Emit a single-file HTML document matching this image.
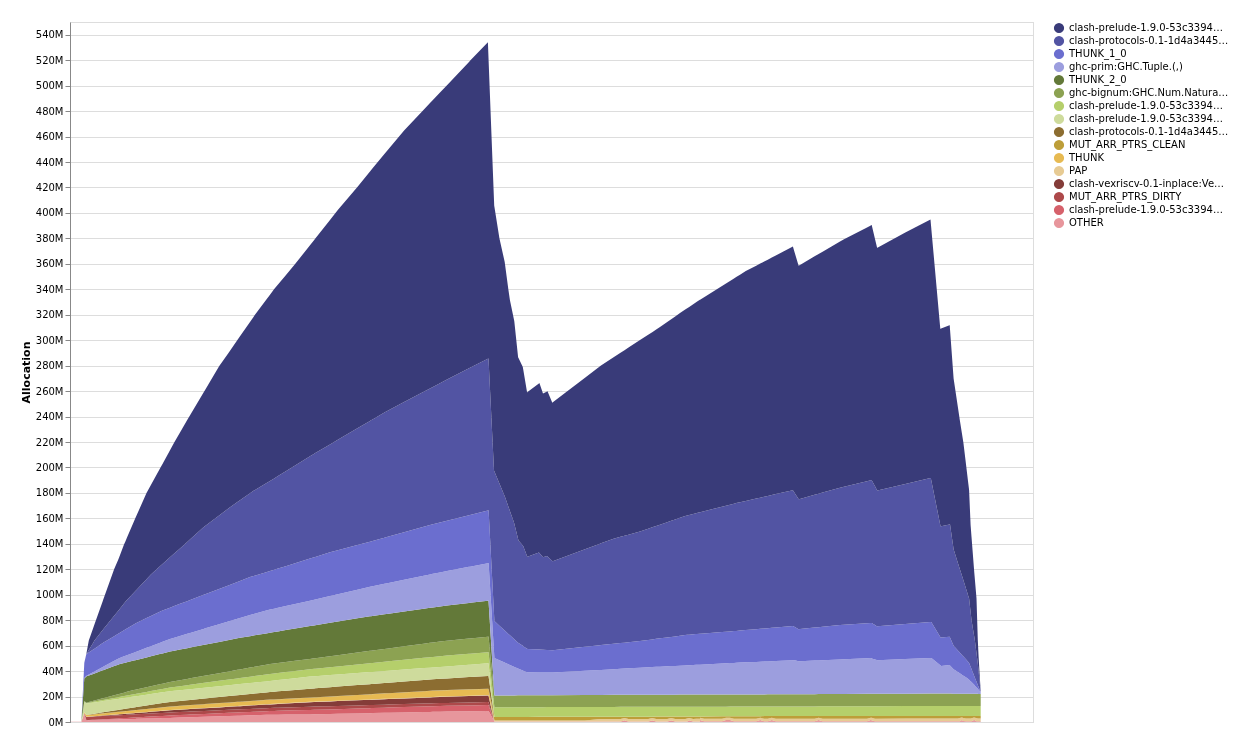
<!DOCTYPE html>
<html><head><meta charset="utf-8"><title>Heap profile</title>
<style>
html,body{margin:0;padding:0;background:#fff;}
svg{display:block;font-family:"DejaVu Sans","Liberation Sans",sans-serif;}
.lab{font-size:10px;fill:#000;}
.ttl{font-size:11px;font-weight:bold;fill:#000;}
</style></head><body>
<svg width="1234" height="734" viewBox="0 0 1234 734">
<rect width="1234" height="734" fill="#fff"/>
<g stroke="#ddd" stroke-width="1"><line x1="70.5" x2="1033.5" y1="722.50" y2="722.50"/><line x1="70.5" x2="1033.5" y1="697.50" y2="697.50"/><line x1="70.5" x2="1033.5" y1="671.50" y2="671.50"/><line x1="70.5" x2="1033.5" y1="646.50" y2="646.50"/><line x1="70.5" x2="1033.5" y1="620.50" y2="620.50"/><line x1="70.5" x2="1033.5" y1="595.50" y2="595.50"/><line x1="70.5" x2="1033.5" y1="569.50" y2="569.50"/><line x1="70.5" x2="1033.5" y1="544.50" y2="544.50"/><line x1="70.5" x2="1033.5" y1="518.50" y2="518.50"/><line x1="70.5" x2="1033.5" y1="493.50" y2="493.50"/><line x1="70.5" x2="1033.5" y1="467.50" y2="467.50"/><line x1="70.5" x2="1033.5" y1="442.50" y2="442.50"/><line x1="70.5" x2="1033.5" y1="417.50" y2="417.50"/><line x1="70.5" x2="1033.5" y1="391.50" y2="391.50"/><line x1="70.5" x2="1033.5" y1="366.50" y2="366.50"/><line x1="70.5" x2="1033.5" y1="340.50" y2="340.50"/><line x1="70.5" x2="1033.5" y1="315.50" y2="315.50"/><line x1="70.5" x2="1033.5" y1="289.50" y2="289.50"/><line x1="70.5" x2="1033.5" y1="264.50" y2="264.50"/><line x1="70.5" x2="1033.5" y1="238.50" y2="238.50"/><line x1="70.5" x2="1033.5" y1="213.50" y2="213.50"/><line x1="70.5" x2="1033.5" y1="187.50" y2="187.50"/><line x1="70.5" x2="1033.5" y1="162.50" y2="162.50"/><line x1="70.5" x2="1033.5" y1="137.50" y2="137.50"/><line x1="70.5" x2="1033.5" y1="111.50" y2="111.50"/><line x1="70.5" x2="1033.5" y1="86.50" y2="86.50"/><line x1="70.5" x2="1033.5" y1="60.50" y2="60.50"/><line x1="70.5" x2="1033.5" y1="35.50" y2="35.50"/></g>
<rect x="70.5" y="22.5" width="963.0" height="700.0" fill="none" stroke="#ddd" stroke-width="1"/>
<g>
<path fill="#e7969c" d="M70.5,721.70L81.4,721.70L84.3,713.50L86.4,720.30L86.6,720.29L88.8,720.23L92.5,720.12L94.5,720.07L102.7,719.83L103.1,719.82L114.2,719.50L118.1,719.39L119.1,719.36L124.0,719.22L125.6,719.17L126.9,719.14L133.8,718.94L135.4,718.89L136.4,718.86L146.5,718.57L150.9,718.45L160.8,718.16L162.5,718.12L170.0,717.90L174.2,717.77L180.0,717.58L187.2,717.35L190.2,717.25L204.3,716.80L204.5,716.80L219.1,716.33L229.0,716.01L237.4,715.74L240.0,715.66L250.0,715.34L253.5,715.23L254.6,715.19L266.2,714.82L270.0,714.70L274.2,714.67L278.0,714.64L285.8,714.58L295.1,714.51L310.0,714.40L314.2,714.31L315.3,714.29L330.0,713.98L337.8,713.82L357.4,713.42L370.0,713.15L371.0,713.13L372.6,713.10L384.4,712.85L388.6,712.77L404.1,712.45L423.7,712.04L430.0,711.91L432.9,711.85L440.0,711.70L447.0,711.58L469.0,711.22L470.0,711.21L487.9,710.91L488.5,710.90L488.6,711.08L494.0,720.69L494.2,721.04L494.4,721.40L499.4,721.40L504.7,721.40L505.0,721.40L508.4,721.40L509.9,721.40L514.0,721.40L514.3,721.40L518.1,721.40L518.5,721.40L522.8,721.40L523.2,721.40L527.1,721.40L527.3,721.40L527.5,721.40L538.9,721.40L539.4,721.40L543.0,721.40L547.1,721.40L547.5,721.40L552.3,721.40L552.6,721.40L552.8,721.40L585.0,721.40L600.0,721.40L601.0,721.40L613.6,721.40L620.5,721.40L624.5,721.40L628.5,721.40L640.0,721.40L648.2,721.40L652.2,721.40L656.2,721.40L660.0,721.40L667.2,721.40L671.2,721.40L675.2,721.40L680.0,721.40L685.2,721.40L687.2,721.40L689.2,721.40L693.2,721.40L696.1,721.40L696.8,721.40L699.9,721.40L700.0,721.20L700.1,721.20L704.1,721.20L722.0,721.20L726.0,721.20L730.0,721.20L734.0,721.20L736.2,721.20L740.0,721.20L745.8,721.20L756.2,721.20L760.2,721.20L764.2,721.20L767.8,721.20L771.8,721.20L775.8,721.20L792.9,721.20L794.8,721.20L798.6,721.20L798.8,721.20L798.9,721.20L800.0,721.20L814.6,721.20L818.6,721.20L822.6,721.20L840.0,721.20L844.0,721.20L867.0,721.20L870.8,721.20L871.0,721.20L871.6,721.20L871.7,721.20L875.0,721.20L876.8,721.20L877.1,721.20L877.3,721.20L877.4,721.20L905.3,721.20L930.5,721.20L930.8,721.20L931.3,721.20L931.4,721.20L940.0,721.20L940.3,721.20L940.5,721.20L940.7,721.20L941.1,721.20L949.5,721.20L949.7,721.20L950.0,721.20L953.6,721.20L957.9,721.20L959.8,721.20L961.9,721.20L963.4,721.20L965.9,721.20L968.3,721.20L969.0,721.20L969.1,721.20L970.3,721.20L970.6,721.20L971.5,721.20L974.0,721.20L974.2,721.20L974.3,721.20L974.8,721.20L976.5,721.20L977.1,721.20L977.8,721.20L977.9,721.20L978.3,721.20L978.6,721.20L980.7,721.20L980.7,722.00L978.6,722.00L978.3,722.00L977.9,722.00L977.8,722.00L977.1,722.00L976.5,722.00L974.8,722.00L974.3,722.00L974.2,722.00L974.0,722.00L971.5,722.00L970.6,722.00L970.3,722.00L969.1,722.00L969.0,722.00L968.3,722.00L965.9,722.00L963.4,722.00L961.9,722.00L959.8,722.00L957.9,722.00L953.6,722.00L950.0,722.00L949.7,722.00L949.5,722.00L941.1,722.00L940.7,722.00L940.5,722.00L940.3,722.00L940.0,722.00L931.4,722.00L931.3,722.00L930.8,722.00L930.5,722.00L905.3,722.00L877.4,722.00L877.3,722.00L877.1,722.00L876.8,722.00L875.0,722.00L871.7,722.00L871.6,722.00L871.0,722.00L870.8,722.00L867.0,722.00L844.0,722.00L840.0,722.00L822.6,722.00L818.6,722.00L814.6,722.00L800.0,722.00L798.9,722.00L798.8,722.00L798.6,722.00L794.8,722.00L792.9,722.00L775.8,722.00L771.8,722.00L767.8,722.00L764.2,722.00L760.2,722.00L756.2,722.00L745.8,722.00L740.0,722.00L736.2,722.00L734.0,722.00L730.0,722.00L726.0,722.00L722.0,722.00L704.1,722.00L700.1,722.00L700.0,722.00L699.9,722.00L696.8,722.00L696.1,722.00L693.2,722.00L689.2,722.00L687.2,722.00L685.2,722.00L680.0,722.00L675.2,722.00L671.2,722.00L667.2,722.00L660.0,722.00L656.2,722.00L652.2,722.00L648.2,722.00L640.0,722.00L628.5,722.00L624.5,722.00L620.5,722.00L613.6,722.00L601.0,722.00L600.0,722.00L585.0,722.00L552.8,722.00L552.6,722.00L552.3,722.00L547.5,722.00L547.1,722.00L543.0,722.00L539.4,722.00L538.9,722.00L527.5,722.00L527.3,722.00L527.1,722.00L523.2,722.00L522.8,722.00L518.5,722.00L518.1,722.00L514.3,722.00L514.0,722.00L509.9,722.00L508.4,722.00L505.0,722.00L504.7,722.00L499.4,722.00L494.4,722.00L494.2,722.00L494.0,722.00L488.6,722.00L488.5,722.00L487.9,722.00L470.0,722.00L469.0,722.00L447.0,722.00L440.0,722.00L432.9,722.00L430.0,722.00L423.7,722.00L404.1,722.00L388.6,722.00L384.4,722.00L372.6,722.00L371.0,722.00L370.0,722.00L357.4,722.00L337.8,722.00L330.0,722.00L315.3,722.00L314.2,722.00L310.0,722.00L295.1,722.00L285.8,722.00L278.0,722.00L274.2,722.00L270.0,722.00L266.2,722.00L254.6,722.00L253.5,722.00L250.0,722.00L240.0,722.00L237.4,722.00L229.0,722.00L219.1,722.00L204.5,722.00L204.3,722.00L190.2,722.00L187.2,722.00L180.0,722.00L174.2,722.00L170.0,722.00L162.5,722.00L160.8,722.00L150.9,722.00L146.5,722.00L136.4,722.00L135.4,722.00L133.8,722.00L126.9,722.00L125.6,722.00L124.0,722.00L119.1,722.00L118.1,722.00L114.2,722.00L103.1,722.00L102.7,722.00L94.5,722.00L92.5,722.00L88.8,722.00L86.6,722.00L86.4,722.00L84.3,722.00L81.4,722.00L70.5,722.00Z"/>
<path fill="#d6616b" d="M81.4,721.70L84.3,713.40L86.4,720.20L86.6,720.19L88.8,720.07L92.5,719.86L94.5,719.74L102.7,719.28L103.1,719.26L114.2,718.64L118.1,718.42L119.1,718.36L124.0,718.09L125.6,718.00L126.9,717.92L133.8,717.54L135.4,717.45L136.4,717.39L146.5,716.82L150.9,716.57L160.8,716.02L162.5,715.92L170.0,715.50L174.2,715.31L180.0,715.05L187.2,714.73L190.2,714.59L204.3,713.96L204.5,713.95L219.1,713.29L229.0,712.85L237.4,712.47L240.0,712.35L250.0,711.90L253.5,711.74L254.6,711.69L266.2,711.17L270.0,711.00L274.2,710.89L278.0,710.80L285.8,710.61L295.1,710.37L310.0,710.00L314.2,709.87L315.3,709.84L330.0,709.38L337.8,709.14L357.4,708.54L370.0,708.15L371.0,708.12L372.6,708.07L384.4,707.71L388.6,707.58L404.1,707.10L423.7,706.50L430.0,706.31L432.9,706.22L440.0,706.00L447.0,705.86L469.0,705.40L470.0,705.38L487.9,705.01L488.5,705.00L488.6,705.29L494.0,720.69L494.2,721.04L494.4,721.40L499.4,721.40L504.7,721.40L505.0,721.40L508.4,721.40L509.9,721.40L514.0,721.40L514.3,721.40L518.1,721.40L518.5,721.40L522.8,721.40L523.2,721.40L527.1,721.40L527.3,721.40L527.5,721.40L538.9,721.40L539.4,721.40L543.0,721.40L547.1,721.40L547.5,721.40L552.3,721.40L552.6,721.40L552.8,721.40L585.0,721.40L600.0,721.40L601.0,721.40L613.6,721.40L620.5,721.40L624.5,720.40L628.5,721.40L640.0,721.40L648.2,721.40L652.2,720.40L656.2,721.40L660.0,721.40L667.2,721.40L671.2,720.40L675.2,721.40L680.0,721.40L685.2,721.40L687.2,721.40L689.2,720.40L693.2,721.40L696.1,721.40L696.8,721.40L699.9,721.40L700.0,721.20L700.1,720.20L704.1,721.20L722.0,721.20L726.0,720.20L730.0,720.20L734.0,721.20L736.2,721.20L740.0,721.20L745.8,721.20L756.2,721.20L760.2,720.20L764.2,721.20L767.8,721.20L771.8,720.20L775.8,721.20L792.9,721.20L794.8,721.20L798.6,721.20L798.8,721.20L798.9,721.20L800.0,721.20L814.6,721.20L818.6,720.20L822.6,721.20L840.0,721.20L844.0,721.20L867.0,721.20L870.8,720.31L871.0,720.20L871.6,720.53L871.7,720.59L875.0,721.20L876.8,721.20L877.1,721.20L877.3,721.20L877.4,721.20L905.3,721.20L930.5,721.20L930.8,721.20L931.3,721.20L931.4,721.20L940.0,721.20L940.3,721.20L940.5,721.20L940.7,721.20L941.1,721.20L949.5,721.20L949.7,721.20L950.0,721.20L953.6,721.20L957.9,721.20L959.8,721.20L961.9,720.20L963.4,721.02L965.9,721.20L968.3,721.20L969.0,721.20L969.1,721.20L970.3,721.20L970.6,721.20L971.5,721.20L974.0,720.37L974.2,720.25L974.3,720.20L974.8,720.48L976.5,721.20L976.5,721.20L974.8,721.20L974.3,721.20L974.2,721.20L974.0,721.20L971.5,721.20L970.6,721.20L970.3,721.20L969.1,721.20L969.0,721.20L968.3,721.20L965.9,721.20L963.4,721.20L961.9,721.20L959.8,721.20L957.9,721.20L953.6,721.20L950.0,721.20L949.7,721.20L949.5,721.20L941.1,721.20L940.7,721.20L940.5,721.20L940.3,721.20L940.0,721.20L931.4,721.20L931.3,721.20L930.8,721.20L930.5,721.20L905.3,721.20L877.4,721.20L877.3,721.20L877.1,721.20L876.8,721.20L875.0,721.20L871.7,721.20L871.6,721.20L871.0,721.20L870.8,721.20L867.0,721.20L844.0,721.20L840.0,721.20L822.6,721.20L818.6,721.20L814.6,721.20L800.0,721.20L798.9,721.20L798.8,721.20L798.6,721.20L794.8,721.20L792.9,721.20L775.8,721.20L771.8,721.20L767.8,721.20L764.2,721.20L760.2,721.20L756.2,721.20L745.8,721.20L740.0,721.20L736.2,721.20L734.0,721.20L730.0,721.20L726.0,721.20L722.0,721.20L704.1,721.20L700.1,721.20L700.0,721.20L699.9,721.40L696.8,721.40L696.1,721.40L693.2,721.40L689.2,721.40L687.2,721.40L685.2,721.40L680.0,721.40L675.2,721.40L671.2,721.40L667.2,721.40L660.0,721.40L656.2,721.40L652.2,721.40L648.2,721.40L640.0,721.40L628.5,721.40L624.5,721.40L620.5,721.40L613.6,721.40L601.0,721.40L600.0,721.40L585.0,721.40L552.8,721.40L552.6,721.40L552.3,721.40L547.5,721.40L547.1,721.40L543.0,721.40L539.4,721.40L538.9,721.40L527.5,721.40L527.3,721.40L527.1,721.40L523.2,721.40L522.8,721.40L518.5,721.40L518.1,721.40L514.3,721.40L514.0,721.40L509.9,721.40L508.4,721.40L505.0,721.40L504.7,721.40L499.4,721.40L494.4,721.40L494.2,721.04L494.0,720.69L488.6,711.08L488.5,710.90L487.9,710.91L470.0,711.21L469.0,711.22L447.0,711.58L440.0,711.70L432.9,711.85L430.0,711.91L423.7,712.04L404.1,712.45L388.6,712.77L384.4,712.85L372.6,713.10L371.0,713.13L370.0,713.15L357.4,713.42L337.8,713.82L330.0,713.98L315.3,714.29L314.2,714.31L310.0,714.40L295.1,714.51L285.8,714.58L278.0,714.64L274.2,714.67L270.0,714.70L266.2,714.82L254.6,715.19L253.5,715.23L250.0,715.34L240.0,715.66L237.4,715.74L229.0,716.01L219.1,716.33L204.5,716.80L204.3,716.80L190.2,717.25L187.2,717.35L180.0,717.58L174.2,717.77L170.0,717.90L162.5,718.12L160.8,718.16L150.9,718.45L146.5,718.57L136.4,718.86L135.4,718.89L133.8,718.94L126.9,719.14L125.6,719.17L124.0,719.22L119.1,719.36L118.1,719.39L114.2,719.50L103.1,719.82L102.7,719.83L94.5,720.07L92.5,720.12L88.8,720.23L86.6,720.29L86.4,720.30L84.3,713.50L81.4,721.70Z"/>
<path fill="#ad494a" d="M84.3,713.40L86.4,717.00L86.6,716.99L88.8,716.87L92.5,716.67L94.5,716.56L102.7,716.12L103.1,716.10L114.2,715.50L118.1,715.29L119.1,715.24L124.0,714.98L125.6,714.89L126.9,714.82L133.8,714.45L135.4,714.36L136.4,714.31L146.5,713.76L150.9,713.53L160.8,713.00L162.5,712.90L170.0,712.50L174.2,712.31L180.0,712.05L187.2,711.73L190.2,711.59L204.3,710.96L204.5,710.95L219.1,710.29L229.0,709.85L237.4,709.47L240.0,709.35L250.0,708.90L253.5,708.74L254.6,708.69L266.2,708.17L270.0,708.00L274.2,707.86L278.0,707.74L285.8,707.49L295.1,707.18L310.0,706.70L314.2,706.58L315.3,706.55L330.0,706.15L337.8,705.93L357.4,705.39L370.0,705.04L371.0,705.01L372.6,704.97L384.4,704.64L388.6,704.52L404.1,704.09L423.7,703.55L430.0,703.38L432.9,703.30L440.0,703.10L447.0,702.95L469.0,702.47L470.0,702.45L487.9,702.06L488.5,702.05L488.6,702.39L494.0,720.69L494.0,720.69L488.6,705.29L488.5,705.00L487.9,705.01L470.0,705.38L469.0,705.40L447.0,705.86L440.0,706.00L432.9,706.22L430.0,706.31L423.7,706.50L404.1,707.10L388.6,707.58L384.4,707.71L372.6,708.07L371.0,708.12L370.0,708.15L357.4,708.54L337.8,709.14L330.0,709.38L315.3,709.84L314.2,709.87L310.0,710.00L295.1,710.37L285.8,710.61L278.0,710.80L274.2,710.89L270.0,711.00L266.2,711.17L254.6,711.69L253.5,711.74L250.0,711.90L240.0,712.35L237.4,712.47L229.0,712.85L219.1,713.29L204.5,713.95L204.3,713.96L190.2,714.59L187.2,714.73L180.0,715.05L174.2,715.31L170.0,715.50L162.5,715.92L160.8,716.02L150.9,716.57L146.5,716.82L136.4,717.39L135.4,717.45L133.8,717.54L126.9,717.92L125.6,718.00L124.0,718.09L119.1,718.36L118.1,718.42L114.2,718.64L103.1,719.26L102.7,719.28L94.5,719.74L92.5,719.86L88.8,720.07L86.6,720.19L86.4,720.20L84.3,713.40Z"/>
<path fill="#843c39" d="M81.4,721.70L84.3,713.30L86.4,716.90L86.6,716.88L88.8,716.71L92.5,716.42L94.5,716.26L102.7,715.61L103.1,715.58L114.2,714.71L118.1,714.40L119.1,714.32L124.0,713.93L125.6,713.81L126.9,713.70L133.8,713.16L135.4,713.03L136.4,712.95L146.5,712.16L150.9,711.81L160.8,711.03L162.5,710.89L170.0,710.30L174.2,710.05L180.0,709.71L187.2,709.29L190.2,709.11L204.3,708.28L204.5,708.26L219.1,707.40L229.0,706.82L237.4,706.32L240.0,706.17L250.0,705.58L253.5,705.37L254.6,705.31L266.2,704.62L270.0,704.40L274.2,704.17L278.0,703.96L285.8,703.53L295.1,703.02L310.0,702.20L314.2,702.03L315.3,701.99L330.0,701.40L337.8,701.09L357.4,700.30L370.0,699.80L371.0,699.76L372.6,699.70L384.4,699.22L388.6,699.06L404.1,698.44L423.7,697.65L430.0,697.40L432.9,697.28L440.0,697.00L447.0,696.78L469.0,696.10L470.0,696.07L487.9,695.52L488.5,695.50L488.6,695.96L494.0,720.58L494.2,721.04L494.2,721.04L494.0,720.69L488.6,702.39L488.5,702.05L487.9,702.06L470.0,702.45L469.0,702.47L447.0,702.95L440.0,703.10L432.9,703.30L430.0,703.38L423.7,703.55L404.1,704.09L388.6,704.52L384.4,704.64L372.6,704.97L371.0,705.01L370.0,705.04L357.4,705.39L337.8,705.93L330.0,706.15L315.3,706.55L314.2,706.58L310.0,706.70L295.1,707.18L285.8,707.49L278.0,707.74L274.2,707.86L270.0,708.00L266.2,708.17L254.6,708.69L253.5,708.74L250.0,708.90L240.0,709.35L237.4,709.47L229.0,709.85L219.1,710.29L204.5,710.95L204.3,710.96L190.2,711.59L187.2,711.73L180.0,712.05L174.2,712.31L170.0,712.50L162.5,712.90L160.8,713.00L150.9,713.53L146.5,713.76L136.4,714.31L135.4,714.36L133.8,714.45L126.9,714.82L125.6,714.89L124.0,714.98L119.1,715.24L118.1,715.29L114.2,715.50L103.1,716.10L102.7,716.12L94.5,716.56L92.5,716.67L88.8,716.87L86.6,716.99L86.4,717.00L84.3,713.40L81.4,721.70Z"/>
<path fill="#e7cb94" d="M84.3,713.30L86.4,716.80L86.6,716.78L88.8,716.60L92.5,716.30L94.5,716.14L102.7,715.47L103.1,715.44L114.2,714.54L118.1,714.22L119.1,714.14L124.0,713.74L125.6,713.61L126.9,713.51L133.8,712.94L135.4,712.81L136.4,712.73L146.5,711.91L150.9,711.55L160.8,710.75L162.5,710.61L170.0,710.00L174.2,709.75L180.0,709.40L187.2,708.97L190.2,708.79L204.3,707.94L204.5,707.93L219.1,707.05L229.0,706.46L237.4,705.96L240.0,705.80L250.0,705.20L253.5,704.99L254.6,704.92L266.2,704.23L270.0,704.00L274.2,703.77L278.0,703.56L285.8,703.13L295.1,702.62L310.0,701.80L314.2,701.63L315.3,701.59L330.0,701.00L337.8,700.69L357.4,699.90L370.0,699.40L371.0,699.36L372.6,699.30L384.4,698.82L388.6,698.66L404.1,698.04L423.7,697.25L430.0,697.00L432.9,696.88L440.0,696.60L447.0,696.38L469.0,695.70L470.0,695.67L487.9,695.12L488.5,695.10L488.6,695.53L494.0,718.68L494.2,719.54L494.4,720.40L499.4,720.40L504.7,720.40L505.0,720.40L508.4,720.40L509.9,720.40L514.0,720.40L514.3,720.40L518.1,720.40L518.5,720.40L522.8,720.40L523.2,720.40L527.1,720.40L527.3,720.40L527.5,720.40L538.9,720.40L539.4,720.40L543.0,720.40L547.1,720.40L547.5,720.40L552.3,720.40L552.6,720.40L552.8,720.40L585.0,720.40L600.0,719.00L601.0,719.00L613.6,718.98L620.5,718.97L624.5,717.97L628.5,718.96L640.0,718.95L648.2,718.94L652.2,717.93L656.2,718.93L660.0,718.92L667.2,718.91L671.2,717.91L675.2,718.90L680.0,718.89L685.2,718.89L687.2,718.39L689.2,717.88L693.2,718.88L696.1,718.87L696.8,718.87L699.9,718.87L700.0,718.87L700.1,717.87L704.1,718.86L722.0,718.84L726.0,717.83L730.0,717.83L734.0,718.82L736.2,718.82L740.0,718.82L745.8,718.81L756.2,718.79L760.2,717.79L764.2,718.78L767.8,718.78L771.8,717.77L775.8,718.77L792.9,718.75L794.8,718.74L798.6,718.74L798.8,718.74L798.9,718.74L800.0,718.74L814.6,718.72L818.6,717.71L822.6,718.71L840.0,718.68L844.0,718.68L867.0,718.65L870.8,717.69L871.0,717.64L871.6,717.79L871.7,717.82L875.0,718.64L876.8,718.64L877.1,718.64L877.3,718.64L877.4,718.63L905.3,718.60L930.5,718.57L930.8,718.56L931.3,718.56L931.4,718.56L940.0,718.55L940.3,718.55L940.5,718.55L940.7,718.55L941.1,718.55L949.5,718.54L949.7,718.54L950.0,718.54L953.6,718.53L957.9,718.53L959.8,718.05L961.9,717.52L963.4,717.90L965.9,718.52L968.3,718.52L969.0,718.51L969.1,718.51L970.3,718.51L970.6,718.44L971.5,718.21L974.0,717.58L974.2,717.53L974.3,717.51L974.8,717.63L976.5,718.05L977.1,718.20L977.8,718.38L977.9,718.40L978.3,718.50L978.6,718.50L980.7,718.50L980.7,721.20L978.6,721.20L978.3,721.20L977.9,721.20L977.8,721.20L977.1,721.20L976.5,721.20L974.8,720.48L974.3,720.20L974.2,720.25L974.0,720.37L971.5,721.20L970.6,721.20L970.3,721.20L969.1,721.20L969.0,721.20L968.3,721.20L965.9,721.20L963.4,721.02L961.9,720.20L959.8,721.20L957.9,721.20L953.6,721.20L950.0,721.20L949.7,721.20L949.5,721.20L941.1,721.20L940.7,721.20L940.5,721.20L940.3,721.20L940.0,721.20L931.4,721.20L931.3,721.20L930.8,721.20L930.5,721.20L905.3,721.20L877.4,721.20L877.3,721.20L877.1,721.20L876.8,721.20L875.0,721.20L871.7,720.59L871.6,720.53L871.0,720.20L870.8,720.31L867.0,721.20L844.0,721.20L840.0,721.20L822.6,721.20L818.6,720.20L814.6,721.20L800.0,721.20L798.9,721.20L798.8,721.20L798.6,721.20L794.8,721.20L792.9,721.20L775.8,721.20L771.8,720.20L767.8,721.20L764.2,721.20L760.2,720.20L756.2,721.20L745.8,721.20L740.0,721.20L736.2,721.20L734.0,721.20L730.0,720.20L726.0,720.20L722.0,721.20L704.1,721.20L700.1,720.20L700.0,721.20L699.9,721.40L696.8,721.40L696.1,721.40L693.2,721.40L689.2,720.40L687.2,721.40L685.2,721.40L680.0,721.40L675.2,721.40L671.2,720.40L667.2,721.40L660.0,721.40L656.2,721.40L652.2,720.40L648.2,721.40L640.0,721.40L628.5,721.40L624.5,720.40L620.5,721.40L613.6,721.40L601.0,721.40L600.0,721.40L585.0,721.40L552.8,721.40L552.6,721.40L552.3,721.40L547.5,721.40L547.1,721.40L543.0,721.40L539.4,721.40L538.9,721.40L527.5,721.40L527.3,721.40L527.1,721.40L523.2,721.40L522.8,721.40L518.5,721.40L518.1,721.40L514.3,721.40L514.0,721.40L509.9,721.40L508.4,721.40L505.0,721.40L504.7,721.40L499.4,721.40L494.4,721.40L494.2,721.04L494.0,720.58L488.6,695.96L488.5,695.50L487.9,695.52L470.0,696.07L469.0,696.10L447.0,696.78L440.0,697.00L432.9,697.28L430.0,697.40L423.7,697.65L404.1,698.44L388.6,699.06L384.4,699.22L372.6,699.70L371.0,699.76L370.0,699.80L357.4,700.30L337.8,701.09L330.0,701.40L315.3,701.99L314.2,702.03L310.0,702.20L295.1,703.02L285.8,703.53L278.0,703.96L274.2,704.17L270.0,704.40L266.2,704.62L254.6,705.31L253.5,705.37L250.0,705.58L240.0,706.17L237.4,706.32L229.0,706.82L219.1,707.40L204.5,708.26L204.3,708.28L190.2,709.11L187.2,709.29L180.0,709.71L174.2,710.05L170.0,710.30L162.5,710.89L160.8,711.03L150.9,711.81L146.5,712.16L136.4,712.95L135.4,713.03L133.8,713.16L126.9,713.70L125.6,713.81L124.0,713.93L119.1,714.32L118.1,714.40L114.2,714.71L103.1,715.58L102.7,715.61L94.5,716.26L92.5,716.42L88.8,716.71L86.6,716.88L86.4,716.90L84.3,713.30Z"/>
<path fill="#e7ba52" d="M81.4,721.70L84.3,712.20L86.4,715.10L86.6,715.08L88.8,714.86L92.5,714.49L94.5,714.29L102.7,713.46L103.1,713.42L114.2,712.31L118.1,711.91L119.1,711.81L124.0,711.32L125.6,711.16L126.9,711.03L133.8,710.34L135.4,710.18L136.4,710.08L146.5,709.06L150.9,708.62L160.8,707.62L162.5,707.45L170.0,706.70L174.2,706.41L180.0,706.01L187.2,705.51L190.2,705.31L204.3,704.33L204.5,704.32L219.1,703.31L229.0,702.63L237.4,702.05L240.0,701.87L250.0,701.18L253.5,700.94L254.6,700.86L266.2,700.06L270.0,699.80L274.2,699.59L278.0,699.40L285.8,699.01L295.1,698.54L310.0,697.80L314.2,697.56L315.3,697.50L330.0,696.66L337.8,696.22L357.4,695.10L370.0,694.38L371.0,694.33L372.6,694.24L384.4,693.56L388.6,693.33L404.1,692.44L423.7,691.33L430.0,690.97L432.9,690.80L440.0,690.40L447.0,690.20L469.0,689.56L470.0,689.53L487.9,689.02L488.5,689.00L488.6,689.53L494.0,718.27L494.2,719.34L494.4,720.40L494.4,720.40L494.2,719.54L494.0,718.68L488.6,695.53L488.5,695.10L487.9,695.12L470.0,695.67L469.0,695.70L447.0,696.38L440.0,696.60L432.9,696.88L430.0,697.00L423.7,697.25L404.1,698.04L388.6,698.66L384.4,698.82L372.6,699.30L371.0,699.36L370.0,699.40L357.4,699.90L337.8,700.69L330.0,701.00L315.3,701.59L314.2,701.63L310.0,701.80L295.1,702.62L285.8,703.13L278.0,703.56L274.2,703.77L270.0,704.00L266.2,704.23L254.6,704.92L253.5,704.99L250.0,705.20L240.0,705.80L237.4,705.96L229.0,706.46L219.1,707.05L204.5,707.93L204.3,707.94L190.2,708.79L187.2,708.97L180.0,709.40L174.2,709.75L170.0,710.00L162.5,710.61L160.8,710.75L150.9,711.55L146.5,711.91L136.4,712.73L135.4,712.81L133.8,712.94L126.9,713.51L125.6,713.61L124.0,713.74L119.1,714.14L118.1,714.22L114.2,714.54L103.1,715.44L102.7,715.47L94.5,716.14L92.5,716.30L88.8,716.60L86.6,716.78L86.4,716.80L84.3,713.30L81.4,721.70Z"/>
<path fill="#bd9e39" d="M81.4,721.70L84.3,712.00L86.4,715.00L86.6,714.98L88.8,714.76L92.5,714.38L94.5,714.18L102.7,713.34L103.1,713.30L114.2,712.17L118.1,711.78L119.1,711.68L124.0,711.18L125.6,711.01L126.9,710.88L133.8,710.18L135.4,710.02L136.4,709.92L146.5,708.89L150.9,708.44L160.8,707.44L162.5,707.26L170.0,706.50L174.2,706.21L180.0,705.81L187.2,705.31L190.2,705.11L204.3,704.13L204.5,704.12L219.1,703.11L229.0,702.43L237.4,701.85L240.0,701.67L250.0,700.98L253.5,700.74L254.6,700.66L266.2,699.86L270.0,699.60L274.2,699.39L278.0,699.20L285.8,698.81L295.1,698.35L310.0,697.60L314.2,697.36L315.3,697.30L330.0,696.46L337.8,696.02L357.4,694.90L370.0,694.18L371.0,694.13L372.6,694.04L384.4,693.36L388.6,693.13L404.1,692.24L423.7,691.13L430.0,690.77L432.9,690.60L440.0,690.20L447.0,690.00L469.0,689.36L470.0,689.33L487.9,688.82L488.5,688.80L488.6,689.28L494.0,715.04L494.2,716.00L494.4,716.95L499.4,716.94L504.7,716.93L505.0,716.93L508.4,716.93L509.9,716.92L514.0,716.92L514.3,716.92L518.1,716.91L518.5,716.91L522.8,716.90L523.2,716.90L527.1,716.89L527.3,716.89L527.5,716.89L538.9,716.87L539.4,716.87L543.0,716.87L547.1,716.86L547.5,716.86L552.3,716.85L552.6,716.85L552.8,716.85L585.0,716.79L600.0,716.77L601.0,716.77L613.6,716.75L620.5,716.73L624.5,716.73L628.5,716.72L640.0,716.70L648.2,716.66L652.2,716.64L656.2,716.62L660.0,716.61L667.2,716.57L671.2,716.55L675.2,716.54L680.0,716.51L685.2,716.49L687.2,716.48L689.2,716.47L693.2,716.45L696.1,716.44L696.8,716.43L699.9,716.42L700.0,716.42L700.1,716.42L704.1,716.40L722.0,716.32L726.0,716.30L730.0,716.28L734.0,716.26L736.2,716.25L740.0,716.23L745.8,716.20L756.2,716.16L760.2,716.14L764.2,716.12L767.8,716.10L771.8,716.08L775.8,716.06L792.9,715.98L794.8,715.97L798.6,715.96L798.8,715.96L798.9,715.96L800.0,715.95L814.6,715.95L818.6,715.94L822.6,715.94L840.0,715.94L844.0,715.94L867.0,715.93L870.8,715.93L871.0,715.93L871.6,715.93L871.7,715.93L875.0,715.93L876.8,715.93L877.1,715.93L877.3,715.93L877.4,715.93L905.3,715.92L930.5,715.91L930.8,715.91L931.3,715.91L931.4,715.91L940.0,715.91L940.3,715.91L940.5,715.91L940.7,715.91L941.1,715.91L949.5,715.91L949.7,715.91L950.0,715.91L953.6,715.91L957.9,715.91L959.8,715.91L961.9,715.91L963.4,715.90L965.9,715.90L968.3,715.90L969.0,715.90L969.1,715.90L970.3,715.90L970.6,715.90L971.5,715.90L974.0,715.90L974.2,715.90L974.3,715.90L974.8,715.90L976.5,715.90L977.1,715.90L977.8,715.90L977.9,715.90L978.3,715.90L978.6,715.90L980.7,715.90L980.7,718.50L978.6,718.50L978.3,718.50L977.9,718.40L977.8,718.38L977.1,718.20L976.5,718.05L974.8,717.63L974.3,717.51L974.2,717.53L974.0,717.58L971.5,718.21L970.6,718.44L970.3,718.51L969.1,718.51L969.0,718.51L968.3,718.52L965.9,718.52L963.4,717.90L961.9,717.52L959.8,718.05L957.9,718.53L953.6,718.53L950.0,718.54L949.7,718.54L949.5,718.54L941.1,718.55L940.7,718.55L940.5,718.55L940.3,718.55L940.0,718.55L931.4,718.56L931.3,718.56L930.8,718.56L930.5,718.57L905.3,718.60L877.4,718.63L877.3,718.64L877.1,718.64L876.8,718.64L875.0,718.64L871.7,717.82L871.6,717.79L871.0,717.64L870.8,717.69L867.0,718.65L844.0,718.68L840.0,718.68L822.6,718.71L818.6,717.71L814.6,718.72L800.0,718.74L798.9,718.74L798.8,718.74L798.6,718.74L794.8,718.74L792.9,718.75L775.8,718.77L771.8,717.77L767.8,718.78L764.2,718.78L760.2,717.79L756.2,718.79L745.8,718.81L740.0,718.82L736.2,718.82L734.0,718.82L730.0,717.83L726.0,717.83L722.0,718.84L704.1,718.86L700.1,717.87L700.0,718.87L699.9,718.87L696.8,718.87L696.1,718.87L693.2,718.88L689.2,717.88L687.2,718.39L685.2,718.89L680.0,718.89L675.2,718.90L671.2,717.91L667.2,718.91L660.0,718.92L656.2,718.93L652.2,717.93L648.2,718.94L640.0,718.95L628.5,718.96L624.5,717.97L620.5,718.97L613.6,718.98L601.0,719.00L600.0,719.00L585.0,720.40L552.8,720.40L552.6,720.40L552.3,720.40L547.5,720.40L547.1,720.40L543.0,720.40L539.4,720.40L538.9,720.40L527.5,720.40L527.3,720.40L527.1,720.40L523.2,720.40L522.8,720.40L518.5,720.40L518.1,720.40L514.3,720.40L514.0,720.40L509.9,720.40L508.4,720.40L505.0,720.40L504.7,720.40L499.4,720.40L494.4,720.40L494.2,719.34L494.0,718.27L488.6,689.53L488.5,689.00L487.9,689.02L470.0,689.53L469.0,689.56L447.0,690.20L440.0,690.40L432.9,690.80L430.0,690.97L423.7,691.33L404.1,692.44L388.6,693.33L384.4,693.56L372.6,694.24L371.0,694.33L370.0,694.38L357.4,695.10L337.8,696.22L330.0,696.66L315.3,697.50L314.2,697.56L310.0,697.80L295.1,698.54L285.8,699.01L278.0,699.40L274.2,699.59L270.0,699.80L266.2,700.06L254.6,700.86L253.5,700.94L250.0,701.18L240.0,701.87L237.4,702.05L229.0,702.63L219.1,703.31L204.5,704.32L204.3,704.33L190.2,705.31L187.2,705.51L180.0,706.01L174.2,706.41L170.0,706.70L162.5,707.45L160.8,707.62L150.9,708.62L146.5,709.06L136.4,710.08L135.4,710.18L133.8,710.34L126.9,711.03L125.6,711.16L124.0,711.32L119.1,711.81L118.1,711.91L114.2,712.31L103.1,713.42L102.7,713.46L94.5,714.29L92.5,714.49L88.8,714.86L86.6,715.08L86.4,715.10L84.3,712.20L81.4,721.70Z"/>
<path fill="#8c6d31" d="M81.4,721.70L84.3,711.90L86.4,714.90L86.6,714.87L88.8,714.53L92.5,713.95L94.5,713.64L102.7,712.37L103.1,712.30L114.2,710.58L118.1,709.97L119.1,709.82L124.0,709.05L125.6,708.80L126.9,708.60L133.8,707.53L135.4,707.28L136.4,707.12L146.5,705.55L150.9,704.87L160.8,703.33L162.5,703.07L170.0,701.90L174.2,701.48L180.0,700.91L187.2,700.20L190.2,699.90L204.3,698.50L204.5,698.48L219.1,697.04L229.0,696.06L237.4,695.23L240.0,694.97L250.0,693.98L253.5,693.63L254.6,693.52L266.2,692.38L270.0,692.00L274.2,691.65L278.0,691.34L285.8,690.70L295.1,689.93L310.0,688.70L314.2,688.38L315.3,688.30L330.0,687.18L337.8,686.58L357.4,685.09L370.0,684.13L371.0,684.05L372.6,683.93L384.4,683.03L388.6,682.71L404.1,681.53L423.7,680.04L430.0,679.56L432.9,679.34L440.0,678.80L447.0,678.38L469.0,677.07L470.0,677.01L487.9,675.94L488.5,675.90L488.6,676.60L494.0,714.17L494.2,715.56L494.4,716.95L494.4,716.95L494.2,716.00L494.0,715.04L488.6,689.28L488.5,688.80L487.9,688.82L470.0,689.33L469.0,689.36L447.0,690.00L440.0,690.20L432.9,690.60L430.0,690.77L423.7,691.13L404.1,692.24L388.6,693.13L384.4,693.36L372.6,694.04L371.0,694.13L370.0,694.18L357.4,694.90L337.8,696.02L330.0,696.46L315.3,697.30L314.2,697.36L310.0,697.60L295.1,698.35L285.8,698.81L278.0,699.20L274.2,699.39L270.0,699.60L266.2,699.86L254.6,700.66L253.5,700.74L250.0,700.98L240.0,701.67L237.4,701.85L229.0,702.43L219.1,703.11L204.5,704.12L204.3,704.13L190.2,705.11L187.2,705.31L180.0,705.81L174.2,706.21L170.0,706.50L162.5,707.26L160.8,707.44L150.9,708.44L146.5,708.89L136.4,709.92L135.4,710.02L133.8,710.18L126.9,710.88L125.6,711.01L124.0,711.18L119.1,711.68L118.1,711.78L114.2,712.17L103.1,713.30L102.7,713.34L94.5,714.18L92.5,714.38L88.8,714.76L86.6,714.98L86.4,715.00L84.3,712.00L81.4,721.70Z"/>
<path fill="#cedb9c" d="M81.4,721.70L84.3,702.00L86.4,703.60L86.6,703.57L88.8,703.24L92.5,702.70L94.5,702.40L102.7,701.18L103.1,701.12L114.2,699.48L118.1,698.90L119.1,698.75L124.0,698.02L125.6,697.79L126.9,697.59L133.8,696.57L135.4,696.33L136.4,696.18L146.5,694.69L150.9,694.03L160.8,692.56L162.5,692.31L170.0,691.20L174.2,690.77L180.0,690.18L187.2,689.45L190.2,689.14L204.3,687.70L204.5,687.68L219.1,686.19L229.0,685.18L237.4,684.33L240.0,684.06L250.0,683.04L253.5,682.68L254.6,682.57L266.2,681.39L270.0,681.00L274.2,680.54L278.0,680.12L285.8,679.26L295.1,678.24L310.0,676.60L314.2,676.29L315.3,676.20L330.0,675.11L337.8,674.53L357.4,673.06L370.0,672.12L371.0,672.05L372.6,671.93L384.4,671.05L388.6,670.74L404.1,669.58L423.7,668.12L430.0,667.65L432.9,667.43L440.0,666.90L447.0,666.38L469.0,664.75L470.0,664.67L487.9,663.34L488.5,663.30L488.6,664.21L494.0,713.31L494.2,715.13L494.4,716.95L494.4,716.95L494.2,715.56L494.0,714.17L488.6,676.60L488.5,675.90L487.9,675.94L470.0,677.01L469.0,677.07L447.0,678.38L440.0,678.80L432.9,679.34L430.0,679.56L423.7,680.04L404.1,681.53L388.6,682.71L384.4,683.03L372.6,683.93L371.0,684.05L370.0,684.13L357.4,685.09L337.8,686.58L330.0,687.18L315.3,688.30L314.2,688.38L310.0,688.70L295.1,689.93L285.8,690.70L278.0,691.34L274.2,691.65L270.0,692.00L266.2,692.38L254.6,693.52L253.5,693.63L250.0,693.98L240.0,694.97L237.4,695.23L229.0,696.06L219.1,697.04L204.5,698.48L204.3,698.50L190.2,699.90L187.2,700.20L180.0,700.91L174.2,701.48L170.0,701.90L162.5,703.07L160.8,703.33L150.9,704.87L146.5,705.55L136.4,707.12L135.4,707.28L133.8,707.53L126.9,708.60L125.6,708.80L124.0,709.05L119.1,709.82L118.1,709.97L114.2,710.58L103.1,712.30L102.7,712.37L94.5,713.64L92.5,713.95L88.8,714.53L86.6,714.87L86.4,714.90L84.3,711.90L81.4,721.70Z"/>
<path fill="#b5cf6b" d="M81.4,721.70L84.3,701.50L86.4,703.10L86.6,703.06L88.8,702.65L92.5,701.96L94.5,701.59L102.7,700.06L103.1,699.98L114.2,697.91L118.1,697.18L119.1,697.00L124.0,696.08L125.6,695.79L126.9,695.54L133.8,694.26L135.4,693.96L136.4,693.77L146.5,691.89L150.9,691.06L160.8,689.22L162.5,688.90L170.0,687.50L174.2,686.93L180.0,686.15L187.2,685.18L190.2,684.77L204.3,682.87L204.5,682.84L219.1,680.87L229.0,679.53L237.4,678.40L240.0,678.05L250.0,676.70L253.5,676.23L254.6,676.08L266.2,674.51L270.0,674.00L274.2,673.50L278.0,673.04L285.8,672.10L295.1,670.99L310.0,669.20L314.2,668.78L315.3,668.67L330.0,667.20L337.8,666.42L357.4,664.46L370.0,663.20L371.0,663.10L372.6,662.94L384.4,661.76L388.6,661.34L404.1,659.79L423.7,657.83L430.0,657.20L432.9,656.91L440.0,656.20L447.0,655.61L469.0,653.75L470.0,653.66L487.9,652.15L488.5,652.10L488.6,653.04L494.0,703.56L494.2,705.43L494.4,707.30L499.4,707.28L504.7,707.26L505.0,707.26L508.4,707.25L509.9,707.25L514.0,707.23L514.3,707.23L518.1,707.22L518.5,707.22L522.8,707.20L523.2,707.20L527.1,707.19L527.3,707.19L527.5,707.19L538.9,707.15L539.4,707.15L543.0,707.13L547.1,707.12L547.5,707.12L552.3,707.10L552.6,707.10L552.8,707.10L585.0,706.99L600.0,706.94L601.0,706.93L613.6,706.89L620.5,706.87L624.5,706.85L628.5,706.84L640.0,706.80L648.2,706.78L652.2,706.78L656.2,706.77L660.0,706.76L667.2,706.75L671.2,706.74L675.2,706.73L680.0,706.72L685.2,706.71L687.2,706.71L689.2,706.70L693.2,706.69L696.1,706.69L696.8,706.69L699.9,706.68L700.0,706.68L700.1,706.68L704.1,706.67L722.0,706.64L726.0,706.63L730.0,706.62L734.0,706.61L736.2,706.61L740.0,706.60L745.8,706.58L756.2,706.55L760.2,706.54L764.2,706.53L767.8,706.52L771.8,706.50L775.8,706.49L792.9,706.44L794.8,706.44L798.6,706.42L798.8,706.42L798.9,706.42L800.0,706.42L814.6,706.38L818.6,706.36L822.6,706.35L840.0,706.30L844.0,706.29L867.0,706.22L870.8,706.21L871.0,706.21L871.6,706.21L871.7,706.20L875.0,706.20L876.8,706.19L877.1,706.19L877.3,706.19L877.4,706.19L905.3,706.10L930.5,706.03L930.8,706.03L931.3,706.03L931.4,706.03L940.0,706.00L940.3,706.00L940.5,706.00L940.7,706.00L941.1,706.00L949.5,706.02L949.7,706.02L950.0,706.02L953.6,706.03L957.9,706.04L959.8,706.05L961.9,706.05L963.4,706.06L965.9,706.06L968.3,706.07L969.0,706.07L969.1,706.07L970.3,706.07L970.6,706.08L971.5,706.08L974.0,706.08L974.2,706.08L974.3,706.08L974.8,706.09L976.5,706.09L977.1,706.09L977.8,706.09L977.9,706.09L978.3,706.09L978.6,706.09L980.7,706.10L980.7,715.90L978.6,715.90L978.3,715.90L977.9,715.90L977.8,715.90L977.1,715.90L976.5,715.90L974.8,715.90L974.3,715.90L974.2,715.90L974.0,715.90L971.5,715.90L970.6,715.90L970.3,715.90L969.1,715.90L969.0,715.90L968.3,715.90L965.9,715.90L963.4,715.90L961.9,715.91L959.8,715.91L957.9,715.91L953.6,715.91L950.0,715.91L949.7,715.91L949.5,715.91L941.1,715.91L940.7,715.91L940.5,715.91L940.3,715.91L940.0,715.91L931.4,715.91L931.3,715.91L930.8,715.91L930.5,715.91L905.3,715.92L877.4,715.93L877.3,715.93L877.1,715.93L876.8,715.93L875.0,715.93L871.7,715.93L871.6,715.93L871.0,715.93L870.8,715.93L867.0,715.93L844.0,715.94L840.0,715.94L822.6,715.94L818.6,715.94L814.6,715.95L800.0,715.95L798.9,715.96L798.8,715.96L798.6,715.96L794.8,715.97L792.9,715.98L775.8,716.06L771.8,716.08L767.8,716.10L764.2,716.12L760.2,716.14L756.2,716.16L745.8,716.20L740.0,716.23L736.2,716.25L734.0,716.26L730.0,716.28L726.0,716.30L722.0,716.32L704.1,716.40L700.1,716.42L700.0,716.42L699.9,716.42L696.8,716.43L696.1,716.44L693.2,716.45L689.2,716.47L687.2,716.48L685.2,716.49L680.0,716.51L675.2,716.54L671.2,716.55L667.2,716.57L660.0,716.61L656.2,716.62L652.2,716.64L648.2,716.66L640.0,716.70L628.5,716.72L624.5,716.73L620.5,716.73L613.6,716.75L601.0,716.77L600.0,716.77L585.0,716.79L552.8,716.85L552.6,716.85L552.3,716.85L547.5,716.86L547.1,716.86L543.0,716.87L539.4,716.87L538.9,716.87L527.5,716.89L527.3,716.89L527.1,716.89L523.2,716.90L522.8,716.90L518.5,716.91L518.1,716.91L514.3,716.92L514.0,716.92L509.9,716.92L508.4,716.93L505.0,716.93L504.7,716.93L499.4,716.94L494.4,716.95L494.2,715.13L494.0,713.31L488.6,664.21L488.5,663.30L487.9,663.34L470.0,664.67L469.0,664.75L447.0,666.38L440.0,666.90L432.9,667.43L430.0,667.65L423.7,668.12L404.1,669.58L388.6,670.74L384.4,671.05L372.6,671.93L371.0,672.05L370.0,672.12L357.4,673.06L337.8,674.53L330.0,675.11L315.3,676.20L314.2,676.29L310.0,676.60L295.1,678.24L285.8,679.26L278.0,680.12L274.2,680.54L270.0,681.00L266.2,681.39L254.6,682.57L253.5,682.68L250.0,683.04L240.0,684.06L237.4,684.33L229.0,685.18L219.1,686.19L204.5,687.68L204.3,687.70L190.2,689.14L187.2,689.45L180.0,690.18L174.2,690.77L170.0,691.20L162.5,692.31L160.8,692.56L150.9,694.03L146.5,694.69L136.4,696.18L135.4,696.33L133.8,696.57L126.9,697.59L125.6,697.79L124.0,698.02L119.1,698.75L118.1,698.90L114.2,699.48L103.1,701.12L102.7,701.18L94.5,702.40L92.5,702.70L88.8,703.24L86.6,703.57L86.4,703.60L84.3,702.00L81.4,721.70Z"/>
<path fill="#8ca252" d="M81.4,721.70L84.3,701.00L86.4,702.70L86.6,702.65L88.8,702.06L92.5,701.07L94.5,700.53L102.7,698.33L103.1,698.23L114.2,695.25L118.1,694.21L119.1,693.94L124.0,692.63L125.6,692.20L126.9,691.85L133.8,690.00L135.4,689.65L136.4,689.43L146.5,687.19L150.9,686.22L160.8,684.03L162.5,683.66L170.0,682.00L174.2,681.24L180.0,680.20L187.2,678.90L190.2,678.36L204.3,675.83L204.5,675.79L219.1,673.16L229.0,671.38L237.4,669.87L240.0,669.40L250.0,667.60L253.5,666.97L254.6,666.77L266.2,664.68L270.0,664.00L274.2,663.46L278.0,662.98L285.8,661.99L295.1,660.80L310.0,658.90L314.2,658.34L315.3,658.19L330.0,656.22L337.8,655.18L357.4,652.56L370.0,650.87L371.0,650.74L372.6,650.52L384.4,648.94L388.6,648.38L404.1,646.31L423.7,643.68L430.0,642.84L432.9,642.45L440.0,641.50L447.0,640.79L469.0,638.57L470.0,638.47L487.9,636.66L488.5,636.60L488.6,637.60L494.0,691.51L494.2,693.50L494.4,695.50L499.4,695.47L504.7,695.44L505.0,695.44L508.4,695.42L509.9,695.41L514.0,695.39L514.3,695.39L518.1,695.37L518.5,695.37L522.8,695.34L523.2,695.34L527.1,695.32L527.3,695.32L527.5,695.32L538.9,695.26L539.4,695.25L543.0,695.23L547.1,695.21L547.5,695.21L552.3,695.18L552.6,695.18L552.8,695.18L585.0,695.00L600.0,694.92L601.0,694.91L613.6,694.85L620.5,694.81L624.5,694.79L628.5,694.76L640.0,694.70L648.2,694.68L652.2,694.68L656.2,694.67L660.0,694.66L667.2,694.65L671.2,694.64L675.2,694.63L680.0,694.62L685.2,694.61L687.2,694.61L689.2,694.60L693.2,694.59L696.1,694.59L696.8,694.59L699.9,694.58L700.0,694.58L700.1,694.58L704.1,694.57L722.0,694.54L726.0,694.53L730.0,694.52L734.0,694.51L736.2,694.51L740.0,694.50L745.8,694.47L756.2,694.42L760.2,694.40L764.2,694.38L767.8,694.36L771.8,694.34L775.8,694.32L792.9,694.24L794.8,694.23L798.6,694.21L798.8,694.21L798.9,694.21L800.0,694.20L814.6,694.13L818.6,694.11L822.6,694.09L840.0,694.00L844.0,693.98L867.0,693.87L870.8,693.85L871.0,693.85L871.6,693.84L871.7,693.84L875.0,693.83L876.8,693.82L877.1,693.81L877.3,693.81L877.4,693.81L905.3,693.67L930.5,693.55L930.8,693.55L931.3,693.54L931.4,693.54L940.0,693.50L940.3,693.50L940.5,693.50L940.7,693.51L941.1,693.51L949.5,693.59L949.7,693.60L950.0,693.60L953.6,693.63L957.9,693.68L959.8,693.69L961.9,693.72L963.4,693.73L965.9,693.75L968.3,693.78L969.0,693.79L969.1,693.79L970.3,693.80L970.6,693.80L971.5,693.81L974.0,693.83L974.2,693.84L974.3,693.84L974.8,693.84L976.5,693.86L977.1,693.86L977.8,693.87L977.9,693.87L978.3,693.88L978.6,693.88L980.7,693.90L980.7,706.10L978.6,706.09L978.3,706.09L977.9,706.09L977.8,706.09L977.1,706.09L976.5,706.09L974.8,706.09L974.3,706.08L974.2,706.08L974.0,706.08L971.5,706.08L970.6,706.08L970.3,706.07L969.1,706.07L969.0,706.07L968.3,706.07L965.9,706.06L963.4,706.06L961.9,706.05L959.8,706.05L957.9,706.04L953.6,706.03L950.0,706.02L949.7,706.02L949.5,706.02L941.1,706.00L940.7,706.00L940.5,706.00L940.3,706.00L940.0,706.00L931.4,706.03L931.3,706.03L930.8,706.03L930.5,706.03L905.3,706.10L877.4,706.19L877.3,706.19L877.1,706.19L876.8,706.19L875.0,706.20L871.7,706.20L871.6,706.21L871.0,706.21L870.8,706.21L867.0,706.22L844.0,706.29L840.0,706.30L822.6,706.35L818.6,706.36L814.6,706.38L800.0,706.42L798.9,706.42L798.8,706.42L798.6,706.42L794.8,706.44L792.9,706.44L775.8,706.49L771.8,706.50L767.8,706.52L764.2,706.53L760.2,706.54L756.2,706.55L745.8,706.58L740.0,706.60L736.2,706.61L734.0,706.61L730.0,706.62L726.0,706.63L722.0,706.64L704.1,706.67L700.1,706.68L700.0,706.68L699.9,706.68L696.8,706.69L696.1,706.69L693.2,706.69L689.2,706.70L687.2,706.71L685.2,706.71L680.0,706.72L675.2,706.73L671.2,706.74L667.2,706.75L660.0,706.76L656.2,706.77L652.2,706.78L648.2,706.78L640.0,706.80L628.5,706.84L624.5,706.85L620.5,706.87L613.6,706.89L601.0,706.93L600.0,706.94L585.0,706.99L552.8,707.10L552.6,707.10L552.3,707.10L547.5,707.12L547.1,707.12L543.0,707.13L539.4,707.15L538.9,707.15L527.5,707.19L527.3,707.19L527.1,707.19L523.2,707.20L522.8,707.20L518.5,707.22L518.1,707.22L514.3,707.23L514.0,707.23L509.9,707.25L508.4,707.25L505.0,707.26L504.7,707.26L499.4,707.28L494.4,707.30L494.2,705.43L494.0,703.56L488.6,653.04L488.5,652.10L487.9,652.15L470.0,653.66L469.0,653.75L447.0,655.61L440.0,656.20L432.9,656.91L430.0,657.20L423.7,657.83L404.1,659.79L388.6,661.34L384.4,661.76L372.6,662.94L371.0,663.10L370.0,663.20L357.4,664.46L337.8,666.42L330.0,667.20L315.3,668.67L314.2,668.78L310.0,669.20L295.1,670.99L285.8,672.10L278.0,673.04L274.2,673.50L270.0,674.00L266.2,674.51L254.6,676.08L253.5,676.23L250.0,676.70L240.0,678.05L237.4,678.40L229.0,679.53L219.1,680.87L204.5,682.84L204.3,682.87L190.2,684.77L187.2,685.18L180.0,686.15L174.2,686.93L170.0,687.50L162.5,688.90L160.8,689.22L150.9,691.06L146.5,691.89L136.4,693.77L135.4,693.96L133.8,694.26L126.9,695.54L125.6,695.79L124.0,696.08L119.1,697.00L118.1,697.18L114.2,697.91L103.1,699.98L102.7,700.06L94.5,701.59L92.5,701.96L88.8,702.65L86.6,703.06L86.4,703.10L84.3,701.50L81.4,721.70Z"/>
<path fill="#637939" d="M81.4,721.70L84.3,678.40L86.4,676.40L86.6,676.33L88.8,675.51L92.5,674.14L94.5,673.40L102.7,670.37L103.1,670.22L114.2,666.11L118.1,664.67L119.1,664.30L124.0,663.07L125.6,662.67L126.9,662.34L133.8,660.60L135.4,660.20L136.4,659.95L146.5,657.41L150.9,656.30L160.8,653.81L162.5,653.39L170.0,651.50L174.2,650.68L180.0,649.54L187.2,648.13L190.2,647.55L204.3,644.79L204.5,644.75L219.1,641.89L229.0,639.95L237.4,638.31L240.0,637.80L250.0,636.13L253.5,635.55L254.6,635.37L266.2,633.43L270.0,632.80L274.2,632.06L278.0,631.38L285.8,630.00L295.1,628.49L310.0,626.07L314.2,625.39L315.3,625.21L330.0,622.82L337.8,621.55L357.4,618.37L370.0,616.32L371.0,616.16L372.6,615.90L384.4,614.24L388.6,613.64L404.1,611.46L423.7,608.70L430.0,607.81L432.9,607.40L440.0,606.40L447.0,605.56L469.0,602.93L470.0,602.81L487.9,600.67L488.5,600.60L488.6,602.21L494.0,689.07L494.2,692.28L494.4,695.50L494.4,695.50L494.2,693.50L494.0,691.51L488.6,637.60L488.5,636.60L487.9,636.66L470.0,638.47L469.0,638.57L447.0,640.79L440.0,641.50L432.9,642.45L430.0,642.84L423.7,643.68L404.1,646.31L388.6,648.38L384.4,648.94L372.6,650.52L371.0,650.74L370.0,650.87L357.4,652.56L337.8,655.18L330.0,656.22L315.3,658.19L314.2,658.34L310.0,658.90L295.1,660.80L285.8,661.99L278.0,662.98L274.2,663.46L270.0,664.00L266.2,664.68L254.6,666.77L253.5,666.97L250.0,667.60L240.0,669.40L237.4,669.87L229.0,671.38L219.1,673.16L204.5,675.79L204.3,675.83L190.2,678.36L187.2,678.90L180.0,680.20L174.2,681.24L170.0,682.00L162.5,683.66L160.8,684.03L150.9,686.22L146.5,687.19L136.4,689.43L135.4,689.65L133.8,690.00L126.9,691.85L125.6,692.20L124.0,692.63L119.1,693.94L118.1,694.21L114.2,695.25L103.1,698.23L102.7,698.33L94.5,700.53L92.5,701.07L88.8,702.06L86.6,702.65L86.4,702.70L84.3,701.00L81.4,721.70Z"/>
<path fill="#9c9ede" d="M81.4,721.70L84.3,678.00L86.4,675.80L86.6,675.69L88.8,674.51L92.5,672.52L94.5,671.44L102.7,667.03L103.1,666.81L114.2,660.84L118.1,658.74L119.1,658.20L124.0,656.35L125.6,655.75L126.9,655.26L133.8,652.66L135.4,652.05L136.4,651.67L146.5,647.86L150.9,646.20L160.8,642.47L162.5,641.83L170.0,639.00L174.2,637.73L180.0,635.99L187.2,633.82L190.2,632.91L204.3,628.67L204.5,628.61L219.1,624.21L229.0,621.23L237.4,618.70L240.0,617.91L250.0,614.90L253.5,613.97L254.6,613.68L266.2,610.61L270.0,609.60L274.2,608.66L278.0,607.82L285.8,606.08L295.1,604.00L310.0,600.68L314.2,599.75L315.3,599.50L330.0,596.09L337.8,594.28L357.4,589.73L370.0,586.80L371.0,586.59L372.6,586.27L384.4,583.84L388.6,582.97L404.1,579.79L423.7,575.75L430.0,574.46L432.9,573.86L440.0,572.40L447.0,571.06L469.0,566.85L470.0,566.66L487.9,563.23L488.5,563.12L488.6,563.10L494.0,651.36L494.2,654.63L494.4,657.90L499.4,660.16L504.7,662.56L505.0,662.69L508.4,664.23L509.9,664.91L514.0,666.76L514.3,666.90L518.1,668.62L518.5,668.80L522.8,670.47L523.2,670.63L527.1,672.14L527.3,672.22L527.5,672.30L538.9,672.44L539.4,672.44L543.0,672.48L547.1,672.53L547.5,672.54L552.3,672.59L552.6,672.60L552.8,672.60L585.0,670.79L600.0,669.95L601.0,669.89L613.6,669.18L620.5,668.80L624.5,668.57L628.5,668.35L640.0,667.70L648.2,667.28L652.2,667.08L656.2,666.87L660.0,666.68L667.2,666.31L671.2,666.11L675.2,665.90L680.0,665.66L685.2,665.39L687.2,665.29L689.2,665.19L693.2,664.99L696.1,664.84L696.8,664.80L699.9,664.65L700.0,664.64L700.1,664.63L704.1,664.43L722.0,663.52L726.0,663.31L730.0,663.11L734.0,662.91L736.2,662.79L740.0,662.60L745.8,662.35L756.2,661.89L760.2,661.72L764.2,661.54L767.8,661.38L771.8,661.21L775.8,661.03L792.9,660.28L794.8,660.20L798.6,661.22L798.8,661.27L798.9,661.30L800.0,661.25L814.6,660.60L818.6,660.42L822.6,660.25L840.0,659.47L844.0,659.29L867.0,658.27L870.8,658.10L871.0,658.16L871.6,658.35L871.7,658.39L875.0,659.44L876.8,660.01L877.1,660.10L877.3,660.17L877.4,660.20L905.3,659.06L930.5,658.04L930.8,658.02L931.3,658.00L931.4,658.00L940.0,665.00L940.3,665.25L940.5,665.41L940.7,665.57L941.1,665.90L949.5,664.90L949.7,665.11L950.0,665.44L953.6,669.30L957.9,672.11L959.8,673.35L961.9,674.72L963.4,675.70L965.9,677.33L968.3,678.90L969.0,679.60L969.1,679.70L970.3,680.90L970.6,681.20L971.5,682.10L974.0,684.60L974.2,684.80L974.3,684.91L974.8,685.47L976.5,687.38L977.1,688.06L977.8,688.84L977.9,688.96L978.3,689.40L978.6,689.74L980.7,692.10L980.7,693.90L978.6,693.88L978.3,693.88L977.9,693.87L977.8,693.87L977.1,693.86L976.5,693.86L974.8,693.84L974.3,693.84L974.2,693.84L974.0,693.83L971.5,693.81L970.6,693.80L970.3,693.80L969.1,693.79L969.0,693.79L968.3,693.78L965.9,693.75L963.4,693.73L961.9,693.72L959.8,693.69L957.9,693.68L953.6,693.63L950.0,693.60L949.7,693.60L949.5,693.59L941.1,693.51L940.7,693.51L940.5,693.50L940.3,693.50L940.0,693.50L931.4,693.54L931.3,693.54L930.8,693.55L930.5,693.55L905.3,693.67L877.4,693.81L877.3,693.81L877.1,693.81L876.8,693.82L875.0,693.83L871.7,693.84L871.6,693.84L871.0,693.85L870.8,693.85L867.0,693.87L844.0,693.98L840.0,694.00L822.6,694.09L818.6,694.11L814.6,694.13L800.0,694.20L798.9,694.21L798.8,694.21L798.6,694.21L794.8,694.23L792.9,694.24L775.8,694.32L771.8,694.34L767.8,694.36L764.2,694.38L760.2,694.40L756.2,694.42L745.8,694.47L740.0,694.50L736.2,694.51L734.0,694.51L730.0,694.52L726.0,694.53L722.0,694.54L704.1,694.57L700.1,694.58L700.0,694.58L699.9,694.58L696.8,694.59L696.1,694.59L693.2,694.59L689.2,694.60L687.2,694.61L685.2,694.61L680.0,694.62L675.2,694.63L671.2,694.64L667.2,694.65L660.0,694.66L656.2,694.67L652.2,694.68L648.2,694.68L640.0,694.70L628.5,694.76L624.5,694.79L620.5,694.81L613.6,694.85L601.0,694.91L600.0,694.92L585.0,695.00L552.8,695.18L552.6,695.18L552.3,695.18L547.5,695.21L547.1,695.21L543.0,695.23L539.4,695.25L538.9,695.26L527.5,695.32L527.3,695.32L527.1,695.32L523.2,695.34L522.8,695.34L518.5,695.37L518.1,695.37L514.3,695.39L514.0,695.39L509.9,695.41L508.4,695.42L505.0,695.44L504.7,695.44L499.4,695.47L494.4,695.50L494.2,692.28L494.0,689.07L488.6,602.21L488.5,600.60L487.9,600.67L470.0,602.81L469.0,602.93L447.0,605.56L440.0,606.40L432.9,607.40L430.0,607.81L423.7,608.70L404.1,611.46L388.6,613.64L384.4,614.24L372.6,615.90L371.0,616.16L370.0,616.32L357.4,618.37L337.8,621.55L330.0,622.82L315.3,625.21L314.2,625.39L310.0,626.07L295.1,628.49L285.8,630.00L278.0,631.38L274.2,632.06L270.0,632.80L266.2,633.43L254.6,635.37L253.5,635.55L250.0,636.13L240.0,637.80L237.4,638.31L229.0,639.95L219.1,641.89L204.5,644.75L204.3,644.79L190.2,647.55L187.2,648.13L180.0,649.54L174.2,650.68L170.0,651.50L162.5,653.39L160.8,653.81L150.9,656.30L146.5,657.41L136.4,659.95L135.4,660.20L133.8,660.60L126.9,662.34L125.6,662.67L124.0,663.07L119.1,664.30L118.1,664.67L114.2,666.11L103.1,670.22L102.7,670.37L94.5,673.40L92.5,674.14L88.8,675.51L86.6,676.33L86.4,676.40L84.3,678.40L81.4,721.70Z"/>
<path fill="#6b6ecf" d="M81.4,721.70L84.3,662.90L86.4,654.10L86.6,653.97L88.8,652.48L92.5,649.98L94.5,648.63L102.7,643.10L103.1,642.86L114.2,636.17L118.1,633.82L119.1,633.22L124.0,630.26L125.6,629.30L126.9,628.53L133.8,624.44L135.4,623.49L136.4,622.90L146.5,618.10L150.9,616.01L160.8,611.31L162.5,610.50L170.0,607.66L174.2,606.06L180.0,603.87L187.2,601.14L190.2,600.00L204.3,594.60L204.5,594.52L219.1,588.93L229.0,585.14L237.4,581.93L240.0,580.93L250.0,577.10L253.5,576.06L254.6,575.74L266.2,572.30L270.0,571.11L274.2,569.79L278.0,568.60L285.8,566.16L295.1,563.24L310.0,558.57L314.2,557.25L315.3,556.91L330.0,552.30L337.8,550.23L357.4,545.04L370.0,541.70L371.0,541.42L372.6,540.97L384.4,537.67L388.6,536.49L404.1,532.15L423.7,526.66L430.0,524.90L432.9,524.18L440.0,522.41L447.0,520.66L469.0,515.18L470.0,514.93L487.9,510.47L488.5,510.32L488.6,510.30L494.0,613.46L494.2,617.28L494.4,621.10L499.4,625.66L504.7,630.50L505.0,630.78L508.4,633.88L509.9,635.25L514.0,638.99L514.3,639.27L518.1,642.73L518.5,643.10L522.8,645.87L523.2,646.13L527.1,648.64L527.3,648.77L527.5,648.90L538.9,649.49L539.4,649.51L543.0,649.70L547.1,649.91L547.5,649.93L552.3,650.17L552.6,650.19L552.8,650.20L585.0,646.80L600.0,645.22L601.0,645.11L613.6,643.79L620.5,643.06L624.5,642.64L628.5,642.21L640.0,641.00L648.2,639.92L652.2,639.40L656.2,638.87L660.0,638.37L667.2,637.43L671.2,636.90L675.2,636.38L680.0,635.75L685.2,635.06L687.2,634.80L689.2,634.64L693.2,634.32L696.1,634.09L696.8,634.04L699.9,633.79L700.0,633.78L700.1,633.77L704.1,633.46L722.0,632.03L726.0,631.71L730.0,631.40L734.0,631.08L736.2,630.90L740.0,630.60L745.8,630.10L756.2,629.19L760.2,628.84L764.2,628.50L767.8,628.18L771.8,627.83L775.8,627.49L792.9,626.00L794.8,627.07L798.6,629.20L798.8,629.18L798.9,629.17L800.0,629.06L814.6,627.58L818.6,627.17L822.6,626.77L840.0,625.00L844.0,624.73L867.0,623.21L870.8,622.95L871.0,622.94L871.6,622.90L871.7,622.96L875.0,625.06L876.8,626.20L877.1,626.18L877.3,626.16L877.4,626.15L905.3,624.00L930.5,622.06L930.8,622.04L931.3,622.00L931.4,622.17L940.0,636.44L940.3,636.94L940.5,637.27L940.7,637.60L941.1,637.56L949.5,636.82L949.7,636.80L950.0,637.49L953.6,645.80L957.9,650.52L959.8,652.60L961.9,654.91L963.4,656.55L965.9,659.30L968.3,661.93L969.0,662.70L969.1,662.95L970.3,666.01L970.6,666.77L971.5,669.06L974.0,675.42L974.2,675.92L974.3,676.18L974.8,677.45L976.5,681.77L977.1,683.30L977.8,684.99L977.9,685.23L978.3,686.20L978.6,686.92L980.7,692.00L980.7,692.10L978.6,689.74L978.3,689.40L977.9,688.96L977.8,688.84L977.1,688.06L976.5,687.38L974.8,685.47L974.3,684.91L974.2,684.80L974.0,684.60L971.5,682.10L970.6,681.20L970.3,680.90L969.1,679.70L969.0,679.60L968.3,678.90L965.9,677.33L963.4,675.70L961.9,674.72L959.8,673.35L957.9,672.11L953.6,669.30L950.0,665.44L949.7,665.11L949.5,664.90L941.1,665.90L940.7,665.57L940.5,665.41L940.3,665.25L940.0,665.00L931.4,658.00L931.3,658.00L930.8,658.02L930.5,658.04L905.3,659.06L877.4,660.20L877.3,660.17L877.1,660.10L876.8,660.01L875.0,659.44L871.7,658.39L871.6,658.35L871.0,658.16L870.8,658.10L867.0,658.27L844.0,659.29L840.0,659.47L822.6,660.25L818.6,660.42L814.6,660.60L800.0,661.25L798.9,661.30L798.8,661.27L798.6,661.22L794.8,660.20L792.9,660.28L775.8,661.03L771.8,661.21L767.8,661.38L764.2,661.54L760.2,661.72L756.2,661.89L745.8,662.35L740.0,662.60L736.2,662.79L734.0,662.91L730.0,663.11L726.0,663.31L722.0,663.52L704.1,664.43L700.1,664.63L700.0,664.64L699.9,664.65L696.8,664.80L696.1,664.84L693.2,664.99L689.2,665.19L687.2,665.29L685.2,665.39L680.0,665.66L675.2,665.90L671.2,666.11L667.2,666.31L660.0,666.68L656.2,666.87L652.2,667.08L648.2,667.28L640.0,667.70L628.5,668.35L624.5,668.57L620.5,668.80L613.6,669.18L601.0,669.89L600.0,669.95L585.0,670.79L552.8,672.60L552.6,672.60L552.3,672.59L547.5,672.54L547.1,672.53L543.0,672.48L539.4,672.44L538.9,672.44L527.5,672.30L527.3,672.22L527.1,672.14L523.2,670.63L522.8,670.47L518.5,668.80L518.1,668.62L514.3,666.90L514.0,666.76L509.9,664.91L508.4,664.23L505.0,662.69L504.7,662.56L499.4,660.16L494.4,657.90L494.2,654.63L494.0,651.36L488.6,563.10L488.5,563.12L487.9,563.23L470.0,566.66L469.0,566.85L447.0,571.06L440.0,572.40L432.9,573.86L430.0,574.46L423.7,575.75L404.1,579.79L388.6,582.97L384.4,583.84L372.6,586.27L371.0,586.59L370.0,586.80L357.4,589.73L337.8,594.28L330.0,596.09L315.3,599.50L314.2,599.75L310.0,600.68L295.1,604.00L285.8,606.08L278.0,607.82L274.2,608.66L270.0,609.60L266.2,610.61L254.6,613.68L253.5,613.97L250.0,614.90L240.0,617.91L237.4,618.70L229.0,621.23L219.1,624.21L204.5,628.61L204.3,628.67L190.2,632.91L187.2,633.82L180.0,635.99L174.2,637.73L170.0,639.00L162.5,641.83L160.8,642.47L150.9,646.20L146.5,647.86L136.4,651.67L135.4,652.05L133.8,652.66L126.9,655.26L125.6,655.75L124.0,656.35L119.1,658.20L118.1,658.74L114.2,660.84L103.1,666.81L102.7,667.03L94.5,671.44L92.5,672.52L88.8,674.51L86.6,675.69L86.4,675.80L84.3,678.00L81.4,721.70Z"/>
<path fill="#5254a3" d="M81.4,721.70L84.3,662.80L86.4,654.10L86.6,653.80L88.8,650.12L92.5,643.94L94.5,640.60L102.7,630.00L103.1,629.50L114.2,615.74L118.1,610.91L119.1,609.67L124.0,603.60L125.6,601.61L126.9,600.00L133.8,592.67L135.4,590.97L136.4,589.91L146.5,579.17L150.9,574.50L160.8,565.62L162.5,564.10L170.0,557.37L174.2,553.60L180.0,548.40L187.2,541.93L190.2,539.24L204.3,526.58L204.5,526.40L219.1,515.44L229.0,508.00L237.4,502.10L240.0,500.28L250.0,493.26L253.5,490.80L254.6,490.14L266.2,483.18L270.0,480.90L274.2,478.38L278.0,476.10L285.8,471.29L295.1,465.56L310.0,456.37L314.2,453.78L315.3,453.10L330.0,444.44L337.8,439.85L357.4,428.31L370.0,420.89L371.0,420.30L372.6,419.38L384.4,412.61L388.6,410.20L404.1,402.05L423.7,391.74L430.0,388.43L432.9,386.90L440.0,383.23L447.0,379.60L469.0,368.22L470.0,367.70L487.9,358.70L488.5,358.40L488.6,360.44L494.0,470.50L494.2,470.98L494.4,471.46L499.4,483.51L504.7,496.28L505.0,497.00L508.4,506.63L509.9,510.88L514.0,522.50L514.3,523.70L518.1,538.90L518.5,540.50L522.8,545.53L523.2,546.00L527.1,556.18L527.3,556.70L527.5,556.63L538.9,552.40L539.4,552.99L543.0,557.20L547.1,556.00L547.5,556.39L552.3,561.01L552.6,561.30L552.8,561.23L585.0,549.30L600.0,543.74L601.0,543.37L613.6,538.70L620.5,536.82L624.5,535.73L628.5,534.64L640.0,531.50L648.2,528.70L652.2,527.34L656.2,525.97L660.0,524.68L667.2,522.22L671.2,520.86L675.2,519.49L680.0,517.86L685.2,516.08L687.2,515.40L689.2,514.90L693.2,513.89L696.1,513.17L696.8,512.99L699.9,512.21L700.0,512.19L700.1,512.16L704.1,511.16L722.0,506.66L726.0,505.66L730.0,504.66L734.0,503.65L736.2,503.10L740.0,502.24L745.8,500.92L756.2,498.55L760.2,497.64L764.2,496.73L767.8,495.91L771.8,495.00L775.8,494.09L792.9,490.20L794.8,493.13L798.6,498.99L798.8,499.30L798.9,499.27L800.0,498.96L814.6,494.85L818.6,493.73L822.6,492.60L840.0,487.70L844.0,486.74L867.0,481.21L870.8,480.29L871.0,480.24L871.6,480.10L871.7,480.28L875.0,486.36L876.8,489.68L877.1,490.23L877.3,490.60L877.4,490.58L905.3,484.01L930.5,478.07L930.8,478.00L931.3,480.49L931.4,480.99L940.0,523.81L940.3,525.30L940.5,526.30L940.7,526.26L941.1,526.17L949.5,524.41L949.7,524.36L950.0,524.30L953.6,549.20L957.9,562.88L959.8,568.92L961.9,575.60L963.4,580.37L965.9,588.32L968.3,595.96L969.0,598.18L969.1,598.50L970.3,609.25L970.6,611.94L971.5,620.00L974.0,635.15L974.2,636.36L974.3,636.97L974.8,640.00L976.5,653.27L977.1,657.95L977.8,663.42L977.9,664.20L978.3,668.17L978.6,671.15L980.7,692.00L980.7,692.00L978.6,686.92L978.3,686.20L977.9,685.23L977.8,684.99L977.1,683.30L976.5,681.77L974.8,677.45L974.3,676.18L974.2,675.92L974.0,675.42L971.5,669.06L970.6,666.77L970.3,666.01L969.1,662.95L969.0,662.70L968.3,661.93L965.9,659.30L963.4,656.55L961.9,654.91L959.8,652.60L957.9,650.52L953.6,645.80L950.0,637.49L949.7,636.80L949.5,636.82L941.1,637.56L940.7,637.60L940.5,637.27L940.3,636.94L940.0,636.44L931.4,622.17L931.3,622.00L930.8,622.04L930.5,622.06L905.3,624.00L877.4,626.15L877.3,626.16L877.1,626.18L876.8,626.20L875.0,625.06L871.7,622.96L871.6,622.90L871.0,622.94L870.8,622.95L867.0,623.21L844.0,624.73L840.0,625.00L822.6,626.77L818.6,627.17L814.6,627.58L800.0,629.06L798.9,629.17L798.8,629.18L798.6,629.20L794.8,627.07L792.9,626.00L775.8,627.49L771.8,627.83L767.8,628.18L764.2,628.50L760.2,628.84L756.2,629.19L745.8,630.10L740.0,630.60L736.2,630.90L734.0,631.08L730.0,631.40L726.0,631.71L722.0,632.03L704.1,633.46L700.1,633.77L700.0,633.78L699.9,633.79L696.8,634.04L696.1,634.09L693.2,634.32L689.2,634.64L687.2,634.80L685.2,635.06L680.0,635.75L675.2,636.38L671.2,636.90L667.2,637.43L660.0,638.37L656.2,638.87L652.2,639.40L648.2,639.92L640.0,641.00L628.5,642.21L624.5,642.64L620.5,643.06L613.6,643.79L601.0,645.11L600.0,645.22L585.0,646.80L552.8,650.20L552.6,650.19L552.3,650.17L547.5,649.93L547.1,649.91L543.0,649.70L539.4,649.51L538.9,649.49L527.5,648.90L527.3,648.77L527.1,648.64L523.2,646.13L522.8,645.87L518.5,643.10L518.1,642.73L514.3,639.27L514.0,638.99L509.9,635.25L508.4,633.88L505.0,630.78L504.7,630.50L499.4,625.66L494.4,621.10L494.2,617.28L494.0,613.46L488.6,510.30L488.5,510.32L487.9,510.47L470.0,514.93L469.0,515.18L447.0,520.66L440.0,522.41L432.9,524.18L430.0,524.90L423.7,526.66L404.1,532.15L388.6,536.49L384.4,537.67L372.6,540.97L371.0,541.42L370.0,541.70L357.4,545.04L337.8,550.23L330.0,552.30L315.3,556.91L314.2,557.25L310.0,558.57L295.1,563.24L285.8,566.16L278.0,568.60L274.2,569.79L270.0,571.11L266.2,572.30L254.6,575.74L253.5,576.06L250.0,577.10L240.0,580.93L237.4,581.93L229.0,585.14L219.1,588.93L204.5,594.52L204.3,594.60L190.2,600.00L187.2,601.14L180.0,603.87L174.2,606.06L170.0,607.66L162.5,610.50L160.8,611.31L150.9,616.01L146.5,618.10L136.4,622.90L135.4,623.49L133.8,624.44L126.9,628.53L125.6,629.30L124.0,630.26L119.1,633.22L118.1,633.82L114.2,636.17L103.1,642.86L102.7,643.10L94.5,648.63L92.5,649.98L88.8,652.48L86.6,653.97L86.4,654.10L84.3,662.90L81.4,721.70Z"/>
<path fill="#393b79" d="M81.4,721.70L84.3,662.70L86.4,653.70L86.6,652.61L88.8,640.60L92.5,630.00L94.5,624.34L102.7,601.13L103.1,600.00L114.2,569.10L118.1,560.00L119.1,557.39L124.0,544.60L125.6,540.88L126.9,537.86L133.8,521.82L135.4,518.10L136.4,515.85L146.5,493.10L150.9,485.10L160.8,467.10L162.5,463.99L170.0,450.28L174.2,442.60L180.0,432.52L187.2,420.00L190.2,414.96L204.3,391.30L204.5,390.96L219.1,366.30L229.0,352.13L237.4,340.10L240.0,336.35L250.0,321.93L253.5,316.89L254.6,315.30L266.2,299.79L270.0,294.71L274.2,289.10L278.0,284.54L285.8,275.17L295.1,264.00L310.0,245.28L314.2,240.00L315.3,238.60L330.0,219.92L337.8,210.00L357.4,187.00L370.0,171.55L371.0,170.33L372.6,168.37L384.4,153.90L388.6,148.93L404.1,130.60L423.7,109.70L430.0,103.08L432.9,100.03L440.0,92.56L447.0,85.20L469.0,61.90L470.0,60.86L487.9,42.30L488.5,57.84L488.6,60.43L494.0,200.32L494.2,205.50L494.4,206.76L499.4,238.20L504.7,262.00L505.0,264.25L508.4,289.80L509.9,300.00L514.0,319.85L514.3,321.30L518.1,357.20L518.5,358.03L522.8,367.00L523.2,369.36L527.1,392.40L527.3,392.25L527.5,392.10L538.9,383.48L539.4,383.10L543.0,393.50L547.1,391.40L547.5,391.20L552.3,402.70L552.6,402.47L552.8,402.32L585.0,377.65L600.0,366.17L601.0,365.40L613.6,357.22L620.5,352.74L624.5,350.14L628.5,347.55L640.0,340.08L648.2,334.76L652.2,332.16L656.2,329.57L660.0,327.10L667.2,322.06L671.2,319.26L675.2,316.46L680.0,313.10L685.2,309.60L687.2,308.26L689.2,306.91L693.2,304.22L696.1,302.27L696.8,301.80L699.9,299.86L700.0,299.80L700.1,299.73L704.1,297.23L722.0,286.01L726.0,283.51L730.0,281.00L734.0,278.49L736.2,277.11L740.0,274.73L745.8,271.10L756.2,265.69L760.2,263.61L764.2,261.53L767.8,259.66L771.8,257.58L775.8,255.49L792.9,246.60L794.8,252.97L798.6,265.70L798.8,265.58L798.9,265.52L800.0,264.88L814.6,256.36L818.6,254.03L822.6,251.69L840.0,241.53L844.0,239.20L867.0,227.41L870.8,225.46L871.0,225.36L871.6,225.05L871.7,225.00L875.0,238.93L876.8,246.53L877.1,247.80L877.3,247.69L877.4,247.64L905.3,232.40L930.5,219.60L930.8,222.94L931.3,228.51L931.4,229.63L940.0,325.46L940.3,328.80L940.5,328.72L940.7,328.64L941.1,328.49L949.5,325.18L949.7,325.10L950.0,329.21L953.6,378.50L957.9,407.28L959.8,420.00L961.9,433.24L963.4,442.70L965.9,463.49L968.3,483.45L969.0,489.27L969.1,490.10L970.3,518.02L970.6,525.00L971.5,536.67L974.0,569.10L974.2,571.45L974.3,572.63L974.8,578.51L976.5,598.50L977.1,617.65L977.8,640.00L977.9,642.10L978.3,650.50L978.6,656.80L980.7,692.00L980.7,692.00L978.6,671.15L978.3,668.17L977.9,664.20L977.8,663.42L977.1,657.95L976.5,653.27L974.8,640.00L974.3,636.97L974.2,636.36L974.0,635.15L971.5,620.00L970.6,611.94L970.3,609.25L969.1,598.50L969.0,598.18L968.3,595.96L965.9,588.32L963.4,580.37L961.9,575.60L959.8,568.92L957.9,562.88L953.6,549.20L950.0,524.30L949.7,524.36L949.5,524.41L941.1,526.17L940.7,526.26L940.5,526.30L940.3,525.30L940.0,523.81L931.4,480.99L931.3,480.49L930.8,478.00L930.5,478.07L905.3,484.01L877.4,490.58L877.3,490.60L877.1,490.23L876.8,489.68L875.0,486.36L871.7,480.28L871.6,480.10L871.0,480.24L870.8,480.29L867.0,481.21L844.0,486.74L840.0,487.70L822.6,492.60L818.6,493.73L814.6,494.85L800.0,498.96L798.9,499.27L798.8,499.30L798.6,498.99L794.8,493.13L792.9,490.20L775.8,494.09L771.8,495.00L767.8,495.91L764.2,496.73L760.2,497.64L756.2,498.55L745.8,500.92L740.0,502.24L736.2,503.10L734.0,503.65L730.0,504.66L726.0,505.66L722.0,506.66L704.1,511.16L700.1,512.16L700.0,512.19L699.9,512.21L696.8,512.99L696.1,513.17L693.2,513.89L689.2,514.90L687.2,515.40L685.2,516.08L680.0,517.86L675.2,519.49L671.2,520.86L667.2,522.22L660.0,524.68L656.2,525.97L652.2,527.34L648.2,528.70L640.0,531.50L628.5,534.64L624.5,535.73L620.5,536.82L613.6,538.70L601.0,543.37L600.0,543.74L585.0,549.30L552.8,561.23L552.6,561.30L552.3,561.01L547.5,556.39L547.1,556.00L543.0,557.20L539.4,552.99L538.9,552.40L527.5,556.63L527.3,556.70L527.1,556.18L523.2,546.00L522.8,545.53L518.5,540.50L518.1,538.90L514.3,523.70L514.0,522.50L509.9,510.88L508.4,506.63L505.0,497.00L504.7,496.28L499.4,483.51L494.4,471.46L494.2,470.98L494.0,470.50L488.6,360.44L488.5,358.40L487.9,358.70L470.0,367.70L469.0,368.22L447.0,379.60L440.0,383.23L432.9,386.90L430.0,388.43L423.7,391.74L404.1,402.05L388.6,410.20L384.4,412.61L372.6,419.38L371.0,420.30L370.0,420.89L357.4,428.31L337.8,439.85L330.0,444.44L315.3,453.10L314.2,453.78L310.0,456.37L295.1,465.56L285.8,471.29L278.0,476.10L274.2,478.38L270.0,480.90L266.2,483.18L254.6,490.14L253.5,490.80L250.0,493.26L240.0,500.28L237.4,502.10L229.0,508.00L219.1,515.44L204.5,526.40L204.3,526.58L190.2,539.24L187.2,541.93L180.0,548.40L174.2,553.60L170.0,557.37L162.5,564.10L160.8,565.62L150.9,574.50L146.5,579.17L136.4,589.91L135.4,590.97L133.8,592.67L126.9,600.00L125.6,601.61L124.0,603.60L119.1,609.67L118.1,610.91L114.2,615.74L103.1,629.50L102.7,630.00L94.5,640.60L92.5,643.94L88.8,650.12L86.6,653.80L86.4,654.10L84.3,662.80L81.4,721.70Z"/>
</g>
<g stroke="#888" stroke-width="1"><line x1="65.5" x2="70.5" y1="722.50" y2="722.50"/><line x1="65.5" x2="70.5" y1="697.50" y2="697.50"/><line x1="65.5" x2="70.5" y1="671.50" y2="671.50"/><line x1="65.5" x2="70.5" y1="646.50" y2="646.50"/><line x1="65.5" x2="70.5" y1="620.50" y2="620.50"/><line x1="65.5" x2="70.5" y1="595.50" y2="595.50"/><line x1="65.5" x2="70.5" y1="569.50" y2="569.50"/><line x1="65.5" x2="70.5" y1="544.50" y2="544.50"/><line x1="65.5" x2="70.5" y1="518.50" y2="518.50"/><line x1="65.5" x2="70.5" y1="493.50" y2="493.50"/><line x1="65.5" x2="70.5" y1="467.50" y2="467.50"/><line x1="65.5" x2="70.5" y1="442.50" y2="442.50"/><line x1="65.5" x2="70.5" y1="417.50" y2="417.50"/><line x1="65.5" x2="70.5" y1="391.50" y2="391.50"/><line x1="65.5" x2="70.5" y1="366.50" y2="366.50"/><line x1="65.5" x2="70.5" y1="340.50" y2="340.50"/><line x1="65.5" x2="70.5" y1="315.50" y2="315.50"/><line x1="65.5" x2="70.5" y1="289.50" y2="289.50"/><line x1="65.5" x2="70.5" y1="264.50" y2="264.50"/><line x1="65.5" x2="70.5" y1="238.50" y2="238.50"/><line x1="65.5" x2="70.5" y1="213.50" y2="213.50"/><line x1="65.5" x2="70.5" y1="187.50" y2="187.50"/><line x1="65.5" x2="70.5" y1="162.50" y2="162.50"/><line x1="65.5" x2="70.5" y1="137.50" y2="137.50"/><line x1="65.5" x2="70.5" y1="111.50" y2="111.50"/><line x1="65.5" x2="70.5" y1="86.50" y2="86.50"/><line x1="65.5" x2="70.5" y1="60.50" y2="60.50"/><line x1="65.5" x2="70.5" y1="35.50" y2="35.50"/><line x1="70.5" x2="70.5" y1="22.5" y2="723.0"/></g>
<g><text class="lab" text-anchor="end" x="63.5" y="726.00">0M</text><text class="lab" text-anchor="end" x="63.5" y="700.00">20M</text><text class="lab" text-anchor="end" x="63.5" y="675.00">40M</text><text class="lab" text-anchor="end" x="63.5" y="649.00">60M</text><text class="lab" text-anchor="end" x="63.5" y="624.00">80M</text><text class="lab" text-anchor="end" x="63.5" y="598.00">100M</text><text class="lab" text-anchor="end" x="63.5" y="573.00">120M</text><text class="lab" text-anchor="end" x="63.5" y="547.00">140M</text><text class="lab" text-anchor="end" x="63.5" y="522.00">160M</text><text class="lab" text-anchor="end" x="63.5" y="496.00">180M</text><text class="lab" text-anchor="end" x="63.5" y="471.00">200M</text><text class="lab" text-anchor="end" x="63.5" y="446.00">220M</text><text class="lab" text-anchor="end" x="63.5" y="420.00">240M</text><text class="lab" text-anchor="end" x="63.5" y="395.00">260M</text><text class="lab" text-anchor="end" x="63.5" y="369.00">280M</text><text class="lab" text-anchor="end" x="63.5" y="344.00">300M</text><text class="lab" text-anchor="end" x="63.5" y="318.00">320M</text><text class="lab" text-anchor="end" x="63.5" y="293.00">340M</text><text class="lab" text-anchor="end" x="63.5" y="267.00">360M</text><text class="lab" text-anchor="end" x="63.5" y="242.00">380M</text><text class="lab" text-anchor="end" x="63.5" y="216.00">400M</text><text class="lab" text-anchor="end" x="63.5" y="191.00">420M</text><text class="lab" text-anchor="end" x="63.5" y="166.00">440M</text><text class="lab" text-anchor="end" x="63.5" y="140.00">460M</text><text class="lab" text-anchor="end" x="63.5" y="115.00">480M</text><text class="lab" text-anchor="end" x="63.5" y="89.00">500M</text><text class="lab" text-anchor="end" x="63.5" y="64.00">520M</text><text class="lab" text-anchor="end" x="63.5" y="38.00">540M</text></g>
<text class="ttl" text-anchor="middle" transform="translate(29.5,372.5) rotate(-90)">Allocation</text>
<g><circle cx="1059" cy="28.0" r="4.37" fill="#393b79" stroke="#393b79" stroke-width="1.5"/><text class="lab" x="1069" y="31.0">clash-prelude-1.9.0-53c3394…</text>
<circle cx="1059" cy="41.0" r="4.37" fill="#5254a3" stroke="#5254a3" stroke-width="1.5"/><text class="lab" x="1069" y="44.0">clash-protocols-0.1-1d4a3445…</text>
<circle cx="1059" cy="54.0" r="4.37" fill="#6b6ecf" stroke="#6b6ecf" stroke-width="1.5"/><text class="lab" x="1069" y="57.0">THUNK_1_0</text>
<circle cx="1059" cy="67.0" r="4.37" fill="#9c9ede" stroke="#9c9ede" stroke-width="1.5"/><text class="lab" x="1069" y="70.0">ghc-prim:GHC.Tuple.(,)</text>
<circle cx="1059" cy="80.0" r="4.37" fill="#637939" stroke="#637939" stroke-width="1.5"/><text class="lab" x="1069" y="83.0">THUNK_2_0</text>
<circle cx="1059" cy="93.0" r="4.37" fill="#8ca252" stroke="#8ca252" stroke-width="1.5"/><text class="lab" x="1069" y="96.0">ghc-bignum:GHC.Num.Natura…</text>
<circle cx="1059" cy="106.0" r="4.37" fill="#b5cf6b" stroke="#b5cf6b" stroke-width="1.5"/><text class="lab" x="1069" y="109.0">clash-prelude-1.9.0-53c3394…</text>
<circle cx="1059" cy="119.0" r="4.37" fill="#cedb9c" stroke="#cedb9c" stroke-width="1.5"/><text class="lab" x="1069" y="122.0">clash-prelude-1.9.0-53c3394…</text>
<circle cx="1059" cy="132.0" r="4.37" fill="#8c6d31" stroke="#8c6d31" stroke-width="1.5"/><text class="lab" x="1069" y="135.0">clash-protocols-0.1-1d4a3445…</text>
<circle cx="1059" cy="145.0" r="4.37" fill="#bd9e39" stroke="#bd9e39" stroke-width="1.5"/><text class="lab" x="1069" y="148.0">MUT_ARR_PTRS_CLEAN</text>
<circle cx="1059" cy="158.0" r="4.37" fill="#e7ba52" stroke="#e7ba52" stroke-width="1.5"/><text class="lab" x="1069" y="161.0">THUNK</text>
<circle cx="1059" cy="171.0" r="4.37" fill="#e7cb94" stroke="#e7cb94" stroke-width="1.5"/><text class="lab" x="1069" y="174.0">PAP</text>
<circle cx="1059" cy="184.0" r="4.37" fill="#843c39" stroke="#843c39" stroke-width="1.5"/><text class="lab" x="1069" y="187.0">clash-vexriscv-0.1-inplace:Ve…</text>
<circle cx="1059" cy="197.0" r="4.37" fill="#ad494a" stroke="#ad494a" stroke-width="1.5"/><text class="lab" x="1069" y="200.0">MUT_ARR_PTRS_DIRTY</text>
<circle cx="1059" cy="210.0" r="4.37" fill="#d6616b" stroke="#d6616b" stroke-width="1.5"/><text class="lab" x="1069" y="213.0">clash-prelude-1.9.0-53c3394…</text>
<circle cx="1059" cy="223.0" r="4.37" fill="#e7969c" stroke="#e7969c" stroke-width="1.5"/><text class="lab" x="1069" y="226.0">OTHER</text></g>
</svg></body></html>
